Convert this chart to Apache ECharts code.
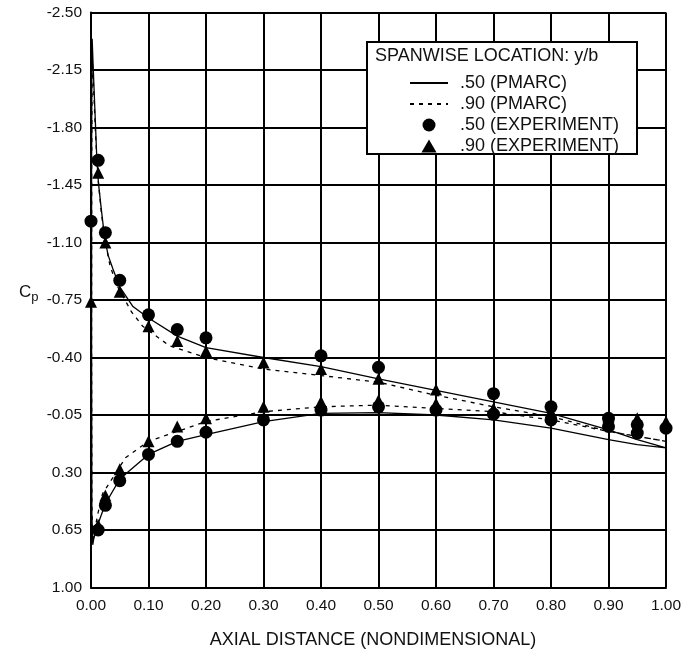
<!DOCTYPE html>
<html lang="en">
<head>
    <meta charset="UTF-8">
    <title>Cp</title>
    <script src="https://cdn.jsdelivr.net/npm/echarts@6/dist/echarts.min.js"></script>
</head>
<body style="margin:0;background:#fff">

<div id="main" style="width: 690px;height: 653px"></div>

<script type="text/javascript">
    // PMARC .50 : around the section, lower surface TE -> LE, then upper LE -> TE
    var pmarc50X = [1.0, 0.95, 0.9, 0.8, 0.7, 0.6, 0.5, 0.4, 0.3, 0.2, 0.15, 0.1, 0.05, 0.025, 0.0125, 0.005, 0.003, 0.0015, 0.001, 0.001, 0.0015, 0.002,
        0.004, 0.008, 0.01, 0.013, 0.018, 0.024, 0.03, 0.038, 0.05, 0.073, 0.1, 0.15, 0.2, 0.3, 0.4, 0.5, 0.6, 0.7, 0.8, 0.9, 0.95, 1.0];
    var pmarc50Cp = [0.15, 0.13, 0.10, 0.03, -0.02, -0.05, -0.065, -0.06, -0.01, 0.07, 0.11, 0.19, 0.34, 0.49, 0.61, 0.70, 0.74, 0.55, -0.5, -1.5, -2.2, -2.34,
        -2.15, -1.80, -1.62, -1.46, -1.30, -1.12, -1.02, -0.94, -0.83, -0.71, -0.64, -0.53, -0.46, -0.40, -0.345, -0.27, -0.20, -0.13, -0.06, 0.04, 0.10, 0.15];

    // PMARC .90
    var pmarc90X = [1.0, 0.95, 0.9, 0.8, 0.7, 0.6, 0.5, 0.4, 0.3, 0.2, 0.15, 0.1, 0.06, 0.04, 0.02, 0.012, 0.007, 0.003, 0.0015, 0.001, 0.0012, 0.002,
        0.005, 0.008, 0.012, 0.018, 0.025, 0.033, 0.045, 0.056, 0.07, 0.09, 0.137, 0.2, 0.3, 0.4, 0.5, 0.6, 0.7, 0.8, 0.9, 0.95, 1.0];
    var pmarc90Cp = [0.11, 0.08, 0.05, -0.02, -0.07, -0.09, -0.11, -0.10, -0.07, -0.01, 0.05, 0.11, 0.21, 0.32, 0.43, 0.55, 0.64, 0.72, 0.5, -0.5, -1.6, -2.25,
        -2.0, -1.75, -1.50, -1.28, -1.10, -0.96, -0.84, -0.77, -0.68, -0.59, -0.47, -0.40, -0.33, -0.29, -0.25, -0.17, -0.10, -0.04, 0.05, 0.08, 0.11];

    // experiment stations, upper and lower surface (null = no point)
    var expX = [0, 0.0125, 0.025, 0.05, 0.1, 0.15, 0.2, 0.3, 0.4, 0.5, 0.6, 0.7, 0.8, 0.9, 0.95, 1.0];
    var exp50Upper = [-1.23, -1.60, -1.16, -0.87, -0.66, -0.57, -0.52, null, -0.41, -0.34, null, -0.18, -0.10, -0.03, 0.01, 0.03];
    var exp50Lower = [null, 0.65, 0.50, 0.35, 0.19, 0.11, 0.055, -0.02, -0.08, -0.10, -0.08, -0.055, -0.02, 0.02, 0.06, null];
    var exp90Upper = [-0.74, -1.525, -1.10, -0.80, -0.59, -0.50, -0.44, -0.37, -0.33, -0.27, -0.205, -0.09, -0.07, -0.04, -0.03, -0.01];
    var exp90Lower = [null, 0.62, 0.44, 0.28, 0.11, 0.02, -0.03, -0.10, -0.13, -0.14, -0.12, null, -0.04, 0.0, null, null];

    var yTicks = ['-2.50', '-2.15', '-1.80', '-1.45', '-1.10', '-0.75', '-0.40', '-0.05', '0.30', '0.65', '1.00'];
    var xTicks = ['0.00', '0.10', '0.20', '0.30', '0.40', '0.50', '0.60', '0.70', '0.80', '0.90', '1.00'];

    function zip(xs, ys) {
        var out = [];
        for (var i = 0; i < xs.length; i++) {
            if (ys[i] !== null) out.push([xs[i], ys[i]]);
        }
        return out;
    }

    var font = 'Liberation Sans';
    var myChart = echarts.init(document.getElementById('main'));

    var option = {
        animation: false,
        backgroundColor: '#fff',
        textStyle: {fontFamily: font, color: '#111'},
        grid: {left: 91, right: 24, top: 12.5, bottom: 65.5},
        xAxis: {
            type: 'value',
            min: 0,
            max: 1,
            interval: 0.1,
            axisLine: {show: true, onZero: false, lineStyle: {color: '#000', width: 2}},
            axisTick: {show: false},
            axisLabel: {
                margin: 10,
                fontSize: 15.5,
                color: '#111',
                fontFamily: font,
                formatter: function (v) {
                    return xTicks[Math.round(v * 10)];
                }
            },
            splitLine: {show: true, lineStyle: {color: '#000', width: 2}}
        },
        yAxis: {
            type: 'value',
            inverse: true,
            min: -2.5,
            max: 1.0,
            interval: 0.35,
            axisLine: {show: true, onZero: false, lineStyle: {color: '#000', width: 2}},
            axisTick: {show: false},
            axisLabel: {
                margin: 9,
                fontSize: 15.5,
                color: '#111',
                fontFamily: font,
                formatter: function (v) {
                    return yTicks[Math.round((v + 2.5) / 0.35)];
                }
            },
            splitLine: {show: true, lineStyle: {color: '#000', width: 2}}
        },
        legend: {
            orient: 'vertical',
            left: 409,
            top: 74,
            padding: 0,
            itemWidth: 38,
            itemHeight: 13,
            itemGap: 3,
            symbolKeepAspect: true,
            z: 200,
            textStyle: {fontSize: 18, color: '#111', fontFamily: font, padding: [0, 0, 0, 7]},
            data: [
                {name: '.50 (PMARC)', itemStyle: {opacity: 0}},
                {name: '.90 (PMARC)', itemStyle: {opacity: 0}},
                {name: '.50 (EXPERIMENT)', icon: 'circle'},
                {name: '.90 (EXPERIMENT)', icon: 'path://M0,10L5.8,0L11.6,10Z'}
            ]
        },
        graphic: [
            {
                type: 'rect',
                z: 100,
                shape: {x: 367, y: 42, width: 270, height: 112},
                style: {fill: '#fff', stroke: '#000', lineWidth: 2}
            },
            {
                type: 'text',
                z: 101,
                x: 375,
                y: 56,
                style: {text: 'SPANWISE LOCATION: y/b', font: '18px "Liberation Sans"', fill: '#111', verticalAlign: 'middle'}
            },
            {
                type: 'text',
                x: 373,
                y: 640,
                style: {
                    text: 'AXIAL DISTANCE (NONDIMENSIONAL)',
                    font: '18px "Liberation Sans"',
                    fill: '#111',
                    align: 'center',
                    verticalAlign: 'middle'
                }
            },
            {
                type: 'text',
                x: 19,
                y: 281,
                style: {
                    text: '{c|C}{p|p}',
                    rich: {
                        c: {fontSize: 17, fontFamily: font, fill: '#111'},
                        p: {fontSize: 13, fontFamily: font, fill: '#111', padding: [10, 0, 0, 0]}
                    }
                }
            }
        ],
        series: [
            {
                name: '.50 (PMARC)',
                type: 'line',
                symbol: 'none',
                z: 3,
                lineStyle: {color: '#000', width: 1.3},
                itemStyle: {color: '#000'},
                data: zip(pmarc50X, pmarc50Cp)
            },
            {
                name: '.90 (PMARC)',
                type: 'line',
                symbol: 'none',
                z: 3,
                lineStyle: {color: '#000', width: 1.3, type: [4, 5]},
                itemStyle: {color: '#000'},
                data: zip(pmarc90X, pmarc90Cp)
            },
            {
                name: '.50 (EXPERIMENT)',
                type: 'scatter',
                symbol: 'circle',
                symbolSize: 13,
                z: 5,
                itemStyle: {color: '#000', opacity: 1},
                data: zip(expX, exp50Upper).concat(zip(expX, exp50Lower))
            },
            {
                name: '.90 (EXPERIMENT)',
                type: 'scatter',
                symbol: 'triangle',
                symbolSize: 12,
                z: 4,
                itemStyle: {color: '#000', opacity: 1},
                data: zip(expX, exp90Upper).concat(zip(expX, exp90Lower))
            }
        ]
    };

    myChart.setOption(option);
</script>
</body>
</html>
